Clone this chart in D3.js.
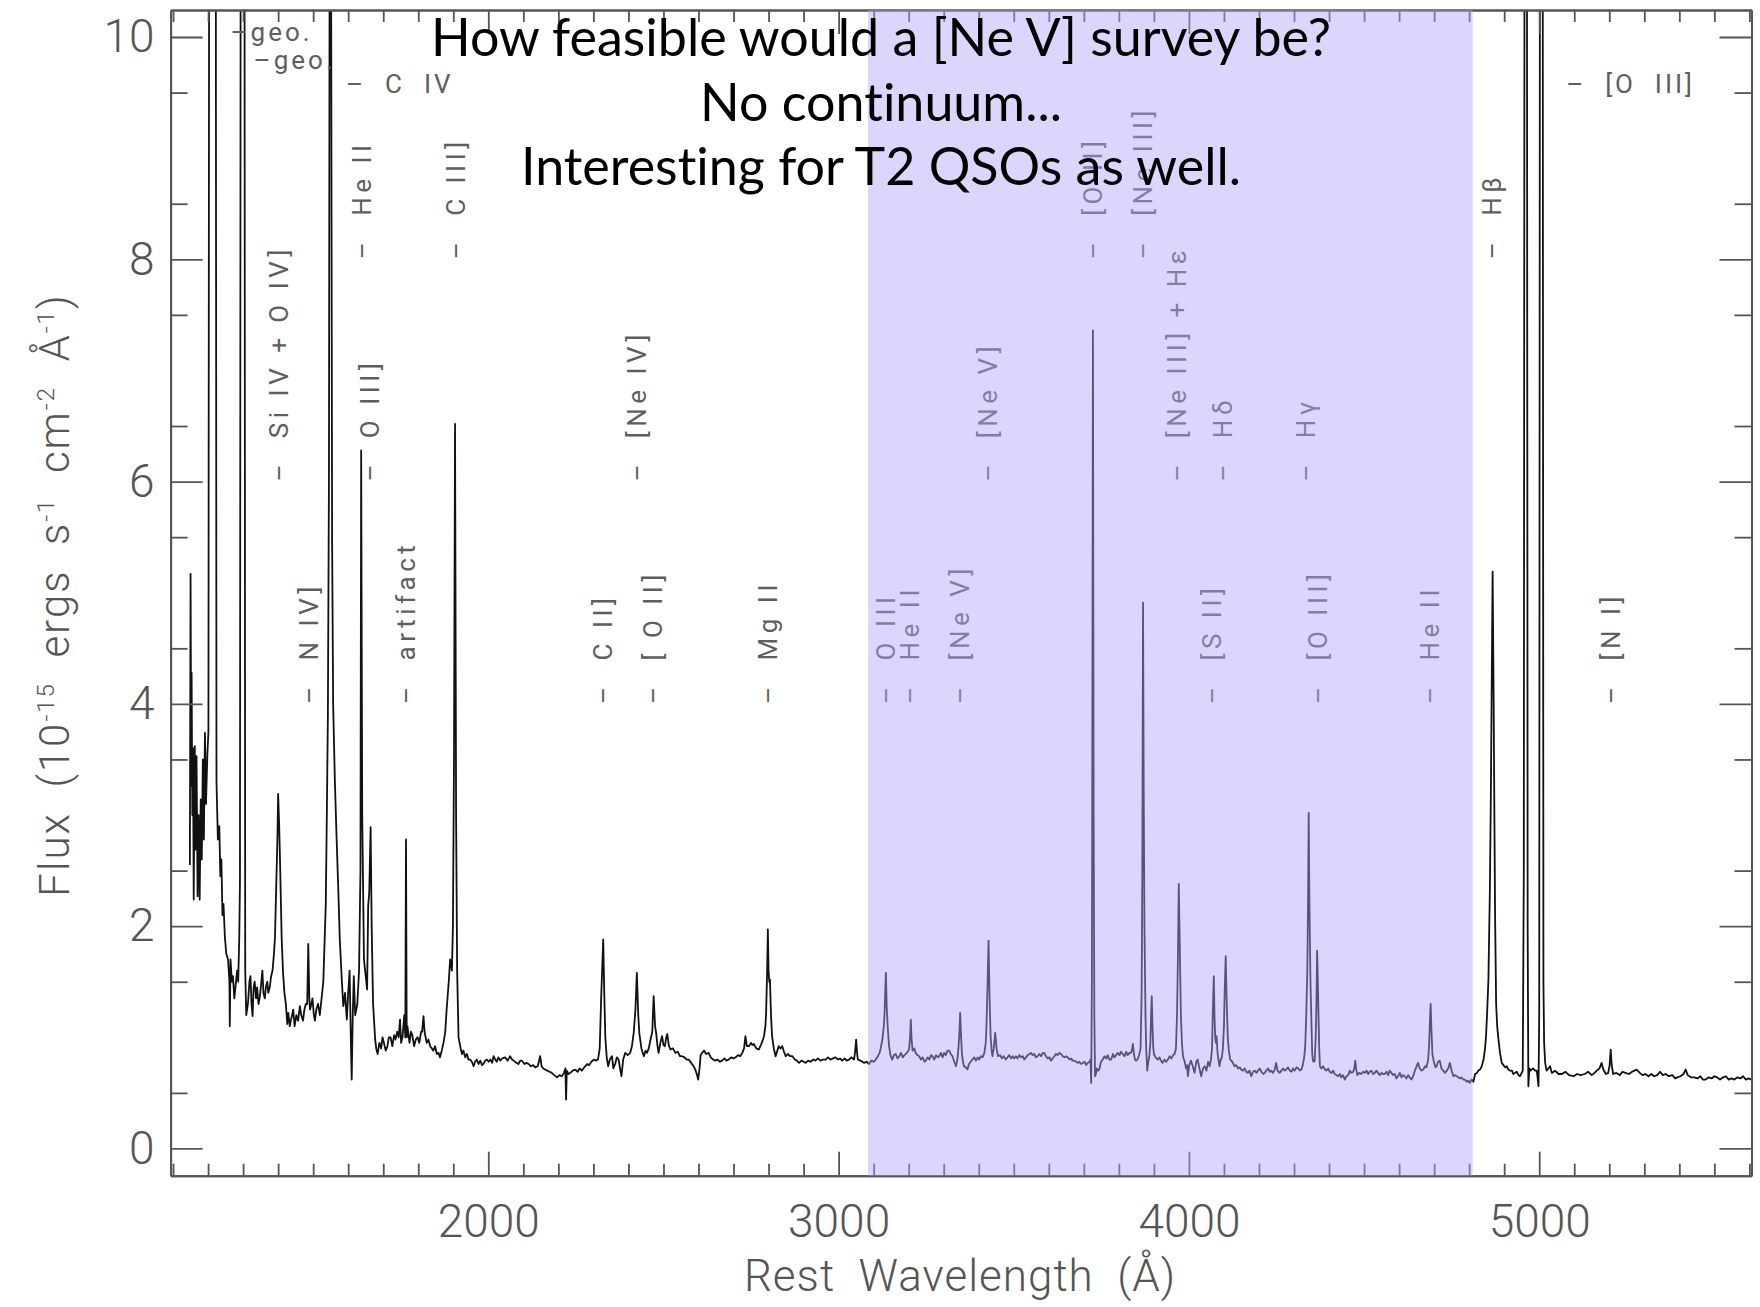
<!DOCTYPE html>
<html>
<head>
<meta charset="utf-8">
<script src="https://cdn.jsdelivr.net/npm/d3@7"></script>
<style>
  body { margin: 0; background: #fff; }
  svg { display: block; }
  .hershey { font-family: Roboto, "Liberation Sans", sans-serif; font-weight: 300; fill: #555; }
  .lineid { font-family: Roboto, "Liberation Sans", sans-serif; font-weight: 400; fill: #5e5e5e; }
  .title { font-family: Lato, "Open Sans", sans-serif; fill: #000; font-variant-ligatures: none; }
</style>
</head>
<body>
<div id="chart"></div>
<script>
// --- data ---------------------------------------------------------------
// [rest wavelength (A), flux (1e-15 erg/s/cm2/A)]; 11 = runs off the top
const specUV = [
    [1148,2.55],[1150,5.17],[1152,3.26],[1153,4.28],[1155,3.0],[1157,3.6],[1159,2.24],[1162,3.62],[1164,2.69],[1167,3.53],
    [1170,2.27],[1173,3.0],[1176,2.24],[1179,3.14],[1182,2.6],[1185,3.5],[1188,2.78],[1191,3.74],[1194,3.1],[1198,3.55],
    [1201,3.75],[1203,11],[1206,11],[1219,11],[1222,11],[1224,3.3],[1228,2.78],[1232,2.9],[1235,2.45],[1238,2.6],
    [1241,2.1],[1244,2.2],[1248,1.9],[1252,1.75],[1257,1.7],[1261,1.5],[1262,1.1],[1264,1.7],[1268,1.5],[1271,1.55],
    [1275,1.35],[1278,1.45],[1283,1.6],[1286,1.5],[1289,1.9],[1291,2.4],[1293,11],[1304,11],[1306,1.6],[1309,1.2],
    [1314,1.31],[1318,1.5],[1321,1.55],[1324,1.3],[1327,1.19],[1330,1.45],[1333,1.5],[1337,1.35],[1340,1.45],[1344,1.3],
    [1348,1.37],[1352,1.5],[1355,1.6],[1358,1.4],[1362,1.35],[1365,1.45],[1369,1.5],[1372,1.4],[1376,1.45],[1380,1.55],
    [1384,1.6],[1388,1.75],[1391,1.9],[1395,2.42],[1398,2.8],[1400,3.19],[1403,2.9],[1406,2.5],[1410,1.9],[1414,1.58],
    [1418,1.4],[1422,1.3],[1426,1.12],[1429,1.22],[1433,1.1],[1436,1.15],[1440,1.2],[1443,1.25],[1447,1.1],[1452,1.2],
    [1457,1.15],[1462,1.28],[1466,1.2],[1471,1.15],[1475,1.25],[1479,1.3],[1483,1.3],[1486,1.84],[1489,1.35],[1491,1.25],
    [1495,1.3],[1498,1.35],[1502,1.2],[1505,1.15],[1509,1.25],[1514,1.3],[1519,1.2],[1524,1.35],[1529,1.5],[1533,1.9],
    [1536,2.2],[1539,3.0],[1542,3.9],[1545,6.0],[1547,11],[1551,11],[1554,5.5],[1557,4.0],[1562,3.3],[1567,2.78],
    [1572,2.3],[1576,1.88],[1582,1.5],[1586,1.28],[1591,1.4],[1596,1.16],[1600,1.4],[1604,1.6],[1608,0.9],[1610,0.62],
    [1613,1.2],[1616,1.55],[1620,1.2],[1626,1.3],[1631,1.6],[1635,2.5],[1637,6.28],[1640,3.0],[1645,1.7],[1649,1.58],
    [1654,1.43],[1657,2.18],[1660,2.3],[1664,2.89],[1667,2.0],[1671,1.3],[1677,0.98],[1680,0.9],[1684,0.85],[1689,0.95],
    [1694,0.9],[1698,1.0],[1702,0.95],[1707,0.88],[1712,0.92],[1716,1.0],[1721,1.0],[1726,0.92],[1731,1.02],[1735,0.98],
    [1740,1.05],[1744,1.0],[1748,1.16],[1751,0.95],[1755,1.0],[1760,1.2],[1763,1.0],[1765,2.78],[1767,1.0],[1769,1.1],
    [1775,0.95],[1779,1.05],[1783,1.02],[1788,0.92],[1793,0.98],[1798,1.0],[1803,0.95],[1808,1.05],[1811,1.05],[1815,1.19],
    [1818,1.05],[1824,0.95],[1829,0.98],[1834,0.92],[1839,0.9],[1843,0.88],[1848,0.92],[1853,0.85],[1858,0.86],[1862,0.82],
    [1867,0.88],[1872,0.95],[1877,1.05],[1881,1.25],[1887,1.5],[1891,1.7],[1896,1.6],[1899,2.0],[1902,3.5],[1905,6.52],
    [1908,3.0],[1911,1.6],[1915,1.0],[1921,0.9],[1925,0.85],[1929,0.88],[1934,0.82],[1939,0.85],[1943,0.8],[1948,0.8],
    [1953,0.78],[1958,0.74],[1962,0.78],[1967,0.8],[1972,0.76],[1977,0.79],[1982,0.75],[1986,0.76],[1991,0.79],[1996,0.8]
];
const specMid = [
    [2001,0.78],[2006,0.8],[2011,0.77],[2015,0.83],[2020,0.8],[2024,0.78],[2029,0.82],[2034,0.79],[2040,0.81],[2048,0.82],
    [2055,0.79],[2062,0.83],[2068,0.8],[2072,0.79],[2080,0.77],[2086,0.76],[2091,0.79],[2096,0.79],[2103,0.76],[2109,0.77],
    [2115,0.76],[2121,0.74],[2128,0.75],[2134,0.73],[2141,0.74],[2148,0.83],[2152,0.74],[2157,0.72],[2162,0.71],[2168,0.7],
    [2175,0.69],[2181,0.68],[2188,0.66],[2196,0.64],[2203,0.66],[2210,0.65],[2216,0.68],[2220,0.72],[2222,0.44],[2224,0.7],
    [2229,0.67],[2234,0.68],[2241,0.7],[2248,0.71],[2255,0.69],[2261,0.72],[2267,0.7],[2274,0.73],[2282,0.76],[2288,0.75],
    [2294,0.78],[2301,0.8],[2307,0.79],[2313,0.8],[2318,0.9],[2322,1.34],[2328,1.88],[2331,1.4],[2334,1.0],[2338,0.82],
    [2342,0.74],[2347,0.8],[2353,0.83],[2357,0.72],[2362,0.76],[2367,0.82],[2372,0.8],[2376,0.72],[2380,0.65],[2385,0.8],
    [2391,0.86],[2398,0.84],[2405,0.86],[2410,0.92],[2415,1.04],[2420,1.25],[2424,1.58],[2428,1.2],[2431,1.04],[2437,0.9],
    [2444,0.83],[2449,0.88],[2453,0.86],[2458,0.9],[2463,0.98],[2468,1.05],[2472,1.37],[2476,1.1],[2479,1.04],[2483,0.92],
    [2486,0.86],[2491,0.95],[2496,1.01],[2500,0.93],[2504,0.92],[2508,1.0],[2511,1.03],[2515,0.93],[2520,0.89],[2527,0.9],
    [2534,0.86],[2541,0.87],[2547,0.83],[2553,0.83],[2560,0.82],[2566,0.8],[2572,0.8],[2579,0.77],[2586,0.74],[2592,0.7],
    [2596,0.66],[2599,0.62],[2603,0.72],[2606,0.84],[2610,0.86],[2616,0.88],[2622,0.85],[2629,0.86],[2635,0.82],[2642,0.8],
    [2648,0.79],[2655,0.8],[2661,0.78],[2667,0.79],[2674,0.81],[2680,0.79],[2686,0.8],[2693,0.82],[2700,0.81],[2706,0.82],
    [2713,0.84],[2719,0.83],[2725,0.86],[2730,0.9],[2734,1.01],[2738,0.92],[2744,0.92],[2750,0.95],[2754,0.93],[2758,0.94],
    [2765,0.9],[2772,0.89],[2778,0.93],[2783,0.97],[2787,1.01],[2791,1.1],[2793,1.22],[2796,1.6],[2798,1.97],[2800,1.6],
    [2802,1.5],[2804,1.52],[2807,1.2],[2810,1.01],[2815,0.9],[2820,0.83],[2825,0.88],[2829,0.92],[2834,0.9],[2839,0.92],
    [2844,0.87],[2849,0.83],[2855,0.85],[2862,0.83],[2868,0.83],[2875,0.8],[2881,0.79],[2887,0.77],[2894,0.79],[2900,0.78],
    [2906,0.77],[2913,0.79],[2920,0.78],[2927,0.8],[2934,0.79],[2941,0.81],[2948,0.79],[2955,0.8],[2963,0.8],[2970,0.82],
    [2977,0.8],[2984,0.81],[2991,0.82],[2998,0.8],[3004,0.81],[3010,0.79],[3017,0.81],[3023,0.79],[3030,0.8],[3036,0.82],
    [3044,0.8],[3047,0.87],[3050,0.98],[3053,0.85],[3055,0.8],[3062,0.79],[3068,0.78],[3073,0.77],[3080,0.78],[3087,0.76]
];
const specBand = [
    [3093,0.79],[3100,0.78],[3106,0.8],[3112,0.83],[3117,0.86],[3120,0.9],[3125,0.98],[3129,1.1],[3131,1.2],[3133,1.4],
    [3135,1.58],[3137,1.3],[3140,1.1],[3144,0.92],[3148,0.84],[3153,0.8],[3158,0.84],[3163,0.85],[3168,0.81],[3173,0.83],
    [3178,0.86],[3183,0.82],[3188,0.84],[3192,0.85],[3197,0.87],[3201,0.89],[3204,1.0],[3206,1.16],[3208,1.0],[3211,0.88],
    [3216,0.9],[3220,0.86],[3225,0.84],[3230,0.83],[3235,0.8],[3240,0.82],[3245,0.78],[3249,0.79],[3254,0.82],[3259,0.8],
    [3264,0.84],[3268,0.83],[3273,0.8],[3278,0.84],[3283,0.82],[3287,0.83],[3292,0.86],[3297,0.82],[3301,0.86],[3306,0.84],
    [3311,0.88],[3316,0.88],[3320,0.85],[3325,0.83],[3330,0.78],[3335,0.74],[3339,0.8],[3342,0.9],[3345,1.05],[3347,1.22],
    [3349,1.05],[3352,0.85],[3355,0.78],[3358,0.74],[3363,0.73],[3368,0.71],[3372,0.76],[3377,0.78],[3382,0.8],[3387,0.82],
    [3392,0.79],[3397,0.82],[3401,0.8],[3406,0.83],[3411,0.82],[3416,0.86],[3420,0.95],[3422,1.1],[3425,1.45],[3428,1.87],
    [3431,1.35],[3434,1.0],[3437,0.88],[3439,0.83],[3443,0.9],[3447,1.04],[3451,0.9],[3455,0.83],[3461,0.84],[3466,0.81],
    [3471,0.83],[3477,0.8],[3482,0.82],[3487,0.84],[3492,0.81],[3497,0.83],[3501,0.81],[3506,0.83],[3511,0.81],[3516,0.84],
    [3521,0.82],[3526,0.83],[3530,0.8],[3535,0.82],[3540,0.84],[3545,0.85],[3549,0.86],[3554,0.84],[3559,0.85],[3563,0.82],
    [3568,0.83],[3573,0.85],[3578,0.83],[3583,0.86],[3587,0.86],[3592,0.83],[3597,0.81],[3602,0.82],[3606,0.79],[3611,0.81],
    [3616,0.83],[3620,0.85],[3625,0.84],[3630,0.86],[3635,0.85],[3640,0.83],[3645,0.82],[3649,0.83],[3654,0.82],[3659,0.8],
    [3664,0.81],[3668,0.79],[3673,0.79],[3678,0.78],[3683,0.77],[3687,0.78],[3692,0.76],[3697,0.77],[3702,0.78],[3707,0.75],
    [3711,0.77],[3716,0.78],[3719,0.8],[3721,0.59],[3723,1.5],[3724,3.0],[3726,7.36],[3728,3.0],[3730,1.2],[3732,0.65],
    [3735,0.68],[3737,0.72],[3741,0.7],[3744,0.71],[3749,0.78],[3754,0.8],[3759,0.83],[3764,0.81],[3768,0.84],[3773,0.8],
    [3778,0.8],[3783,0.85],[3787,0.82],[3792,0.84],[3797,0.86],[3802,0.84],[3806,0.87],[3811,0.85],[3816,0.83],[3821,0.87],
    [3825,0.84],[3830,0.86],[3835,0.86],[3838,0.9],[3840,0.94],[3843,0.85],[3846,0.8],[3849,0.79],[3853,0.8],[3858,0.84],
    [3862,0.9],[3865,1.4],[3867,2.5],[3869,4.91],[3871,3.2],[3873,2.0],[3876,1.2],[3878,0.9],[3881,0.7],[3884,0.78],
    [3887,0.83],[3890,0.95],[3892,1.2],[3894,1.37],[3896,1.1],[3898,0.92],[3900,0.85],[3905,0.82],[3911,0.8],[3916,0.82],
    [3920,0.79],[3925,0.77],[3930,0.8],[3935,0.78],[3940,0.8],[3945,0.83],[3950,0.81],[3955,0.84],[3959,0.85],[3963,0.9],
    [3966,1.2],[3969,1.8],[3971,2.38],[3974,1.8],[3977,1.2],[3980,0.95],[3983,0.83],[3988,0.78],[3992,0.72],[3995,0.75],
    [3997,0.65],[4001,0.75],[4006,0.79],[4011,0.74],[4016,0.68],[4021,0.78],[4025,0.8],[4030,0.72],[4035,0.65],[4040,0.72],
    [4045,0.74],[4050,0.7],[4055,0.78],[4059,0.74],[4063,0.8],[4066,0.9],[4068,1.2],[4071,1.55],[4073,1.2],[4075,1.0],
    [4077,0.95],[4079,1.01],[4082,0.85],[4087,0.74],[4091,0.8],[4094,0.82],[4097,0.9],[4100,1.1],[4102,1.4],[4105,1.73],
    [4108,1.3],[4111,1.0],[4114,0.88],[4118,0.8],[4124,0.78],[4130,0.74],[4135,0.75],[4140,0.72],[4145,0.73],[4149,0.71],
    [4154,0.7],[4159,0.72],[4164,0.69],[4168,0.68],[4173,0.7],[4178,0.65],[4183,0.69],[4188,0.7],[4193,0.68],[4197,0.7],
    [4202,0.72],[4207,0.69],[4212,0.67],[4216,0.68],[4221,0.7],[4226,0.72],[4231,0.69],[4235,0.7],[4240,0.68],[4245,0.71],
    [4249,0.77],[4253,0.7],[4259,0.68],[4264,0.7],[4269,0.72],[4274,0.7],[4278,0.71],[4283,0.73],[4288,0.7],[4293,0.69],
    [4297,0.72],[4302,0.7],[4307,0.73],[4312,0.72],[4317,0.7],[4321,0.71],[4325,0.75],[4329,0.82],[4332,0.92],[4335,1.2],
    [4338,1.6],[4340,2.2],[4342,3.02],[4344,2.2],[4347,1.5],[4350,1.1],[4352,0.85],[4354,0.79],[4357,0.78],[4359,0.79],
    [4362,1.0],[4364,1.3],[4366,1.78],[4368,1.5],[4370,1.2],[4372,0.9],[4374,0.74],[4378,0.72],[4383,0.74],[4388,0.71],
    [4392,0.7],[4397,0.72],[4402,0.69],[4407,0.68],[4412,0.7],[4416,0.67],[4421,0.66],[4426,0.65],[4431,0.67],[4435,0.64],
    [4440,0.66],[4445,0.62],[4450,0.65],[4455,0.66],[4459,0.7],[4464,0.68],[4469,0.69],[4472,0.72],[4475,0.79],[4478,0.7],
    [4481,0.66],[4486,0.68],[4492,0.67],[4497,0.69],[4502,0.68],[4507,0.7],[4512,0.67],[4516,0.69],[4521,0.7],[4526,0.67],
    [4531,0.68],[4535,0.7],[4540,0.68],[4545,0.66],[4550,0.68],[4554,0.67],[4559,0.67],[4564,0.69],[4569,0.66],[4573,0.7],
    [4578,0.68],[4583,0.66],[4588,0.67],[4592,0.63],[4597,0.65],[4602,0.68],[4607,0.64],[4611,0.66],[4616,0.65],[4621,0.63],
    [4626,0.66],[4630,0.64],[4635,0.62],[4640,0.65],[4645,0.7],[4650,0.74],[4654,0.77],[4659,0.72],[4664,0.7],[4669,0.71],
    [4674,0.74],[4678,0.73],[4683,0.8],[4686,0.95],[4688,1.15],[4690,1.3],[4692,1.1],[4695,0.85],[4700,0.77],[4704,0.73],
    [4707,0.74],[4711,0.78],[4716,0.79],[4721,0.72],[4726,0.7],[4731,0.68],[4736,0.7],[4740,0.72],[4745,0.77],[4750,0.7],
    [4755,0.65],[4760,0.66],[4764,0.65],[4769,0.64],[4774,0.63],[4778,0.64],[4783,0.62],[4788,0.62],[4793,0.6],[4797,0.61],
    [4802,0.59],[4807,0.62],[4812,0.6]
];
const specRed = [
    [4817,0.67],[4822,0.68],[4826,0.7],[4831,0.71],[4836,0.74],[4841,0.8],[4845,0.89],[4848,1.0],[4851,1.2],[4855,1.52],
    [4859,2.3],[4862,3.2],[4864,4.0],[4867,5.19],[4870,4.0],[4872,3.0],[4874,2.1],[4877,1.3],[4880,1.1],[4883,1.0],
    [4888,0.86],[4893,0.77],[4898,0.75],[4903,0.73],[4907,0.74],[4912,0.71],[4917,0.7],[4922,0.7],[4926,0.67],[4931,0.68],
    [4936,0.69],[4941,0.66],[4945,0.65],[4950,0.68],[4953,0.7],[4956,2.5],[4958,11],[4965,11],[4967,2.0],[4969,0.56],
    [4972,0.72],[4975,0.7],[4978,0.71],[4983,0.72],[4988,0.7],[4993,0.7],[4996,0.62],[4998,0.56],[5000,1.2],[5002,11],
    [5010,11],[5012,1.5],[5014,0.95],[5017,0.77],[5021,0.7],[5026,0.72],[5031,0.74],[5036,0.68],[5045,0.7],[5055,0.67],
    [5065,0.67],[5075,0.69],[5085,0.66],[5098,0.65],[5108,0.67],[5118,0.66],[5130,0.67],[5140,0.69],[5150,0.66],[5158,0.68],
    [5164,0.7],[5172,0.72],[5178,0.77],[5183,0.71],[5190,0.67],[5197,0.68],[5201,0.75],[5204,0.89],[5207,0.75],[5211,0.67],
    [5220,0.68],[5230,0.66],[5238,0.69],[5246,0.68],[5256,0.67],[5265,0.69],[5272,0.7],[5278,0.71],[5287,0.68],[5295,0.66],
    [5303,0.67],[5312,0.65],[5320,0.67],[5328,0.65],[5337,0.66],[5345,0.69],[5353,0.66],[5361,0.67],[5370,0.65],[5380,0.66],
    [5388,0.63],[5394,0.64],[5403,0.65],[5412,0.67],[5418,0.71],[5424,0.66],[5433,0.64],[5443,0.64],[5452,0.63],[5460,0.65],
    [5467,0.62],[5475,0.62],[5484,0.64],[5492,0.63],[5500,0.65],[5508,0.64],[5516,0.62],[5525,0.64],[5533,0.65],[5541,0.62],
    [5549,0.63],[5557,0.62],[5566,0.64],[5574,0.63],[5582,0.65],[5590,0.62],[5598,0.63],[5606,0.62]
];

// vertical line ids: name, wavelength, flux where the tick-dash starts
const lineLabels = [
    {name: "Si IV + O IV]", wave: 1400, flux: 6}, {name: "N IV]", wave: 1488, flux: 4},
    {name: "He II", wave: 1637, flux: 8}, {name: "O III]", wave: 1662, flux: 6},
    {name: "artifact", wave: 1765, flux: 4}, {name: "C III]", wave: 1908, flux: 8},
    {name: "C II]", wave: 2327, flux: 4}, {name: "[Ne IV]", wave: 2422, flux: 6},
    {name: "[ O II]", wave: 2470, flux: 4}, {name: "Mg II", wave: 2798, flux: 4},
    {name: "O III", wave: 3134, flux: 4}, {name: "He II", wave: 3203, flux: 4},
    {name: "[Ne V]", wave: 3346, flux: 4}, {name: "[Ne V]", wave: 3426, flux: 6},
    {name: "[O II]", wave: 3726, flux: 8}, {name: "[Ne III]", wave: 3869, flux: 8},
    {name: "[Ne III] + Hε", wave: 3966, flux: 6}, {name: "[S II]", wave: 4066, flux: 4},
    {name: "Hδ", wave: 4097, flux: 6}, {name: "Hγ", wave: 4334, flux: 6},
    {name: "[O III]", wave: 4366, flux: 4}, {name: "He II", wave: 4686, flux: 4},
    {name: "Hβ", wave: 4863, flux: 8}, {name: "[N I]", wave: 5203, flux: 4}
];
// horizontal ids near the top
const topLabels = [
    {name: "–geo.", wave: 1264, flux: 10.05}, {name: "–geo.", wave: 1330, flux: 9.8},
    {name: "–  C  IV", wave: 1594, flux: 9.58}, {name: "–  [O  III]", wave: 5077, flux: 9.58}
];

const shadedBand = [3084, 4810];
const waveRange = [1093, 5606];
const fluxRange = [-0.245, 10.243];
const xTickLabels = [2000, 3000, 4000, 5000];
const yTickLabels = [0, 2, 4, 6, 8, 10];
const titleLines = ["How feasible would a [Ne V] survey be?", "No continuum...", "Interesting for T2 QSOs as well."];

// --- layout ---------------------------------------------------------------
const W = 1760, H = 1307;
const margin = {top: 10, right: 8.5, bottom: 131.3, left: 170.6};
const plotTop = margin.top, plotBottom = H - margin.bottom;
const plotLeft = margin.left, plotRight = W - margin.right;

const svg = d3.select("#chart").append("svg")
    .attr("width", W)
    .attr("height", H);

const x = d3.scaleLinear().domain(waveRange).range([plotLeft, plotRight]);
const y = d3.scaleLinear().domain(fluxRange).range([plotBottom, plotTop]);

svg.append("clipPath").attr("id", "plotClip")
    .append("rect")
    .attr("x", plotLeft).attr("y", plotTop)
    .attr("width", plotRight - plotLeft)
    .attr("height", plotBottom - plotTop);

// spectrum
const spectrum = specUV.concat(specMid, specBand, specRed);
const line = d3.line().x(d => x(d[0])).y(d => y(d[1]));

svg.append("g")
    .attr("clip-path", "url(#plotClip)")
    .append("path")
    .datum(spectrum)
    .attr("d", line)
    .attr("fill", "none")
    .attr("stroke", "#111")
    .attr("stroke-width", 1.8)
    .attr("stroke-linejoin", "round");

// line identifications
const labelSize = 26;
svg.append("g").attr("class", "lineid")
    .selectAll("text")
    .data(lineLabels)
    .join("text")
    .attr("transform", d => `translate(${x(d.wave)},${y(d.flux)}) rotate(-90)`)
    .attr("dy", "0.36em")
    .attr("font-size", labelSize)
    .attr("letter-spacing", 4.5)
    .style("white-space", "pre")
    .text(d => "–  " + d.name);

svg.append("g").attr("class", "lineid")
    .selectAll("text")
    .data(topLabels)
    .join("text")
    .attr("x", d => x(d.wave))
    .attr("y", d => y(d.flux))
    .attr("dy", "0.36em")
    .attr("font-size", labelSize)
    .attr("letter-spacing", 3)
    .style("white-space", "pre")
    .text(d => d.name);

// axes: inward ticks on all four sides
const xMinor = d3.range(1100, 5601, 100).filter(v => v % 1000 !== 0);
const yMinor = d3.range(0.5, 10.01, 1);
const axisColor = "#555";

function styleAxis(g) {
    g.attr("font-family", null).attr("font-size", null);
    g.selectAll("path.domain").attr("stroke", axisColor).attr("stroke-width", 2);
    g.selectAll(".tick line").attr("stroke", axisColor).attr("stroke-width", 1.8);
    g.selectAll(".tick text")
        .attr("class", "hershey")
        .attr("font-size", 46)
        .attr("fill", axisColor);
}

svg.append("g").attr("transform", `translate(0,${plotBottom})`)
    .call(d3.axisBottom(x).tickValues(xMinor).tickSize(-12).tickSizeOuter(0).tickFormat(""))
    .call(styleAxis);
svg.append("g").attr("transform", `translate(0,${plotBottom})`)
    .call(d3.axisBottom(x).tickValues(xTickLabels).tickSize(-24).tickSizeOuter(0).tickPadding(29).tickFormat(d3.format("d")))
    .call(styleAxis);

svg.append("g").attr("transform", `translate(0,${plotTop})`)
    .call(d3.axisTop(x).tickValues(xMinor).tickSize(-12).tickSizeOuter(0).tickFormat(""))
    .call(styleAxis);
svg.append("g").attr("transform", `translate(0,${plotTop})`)
    .call(d3.axisTop(x).tickValues(xTickLabels).tickSize(-24).tickSizeOuter(0).tickFormat(""))
    .call(styleAxis);

svg.append("g").attr("transform", `translate(${plotLeft},0)`)
    .call(d3.axisLeft(y).tickValues(yMinor).tickSize(-17).tickSizeOuter(0).tickFormat(""))
    .call(styleAxis);
svg.append("g").attr("transform", `translate(${plotLeft},0)`)
    .call(d3.axisLeft(y).tickValues(yTickLabels).tickSize(-32).tickSizeOuter(0).tickPadding(16).tickFormat(d3.format("d")))
    .call(styleAxis);

svg.append("g").attr("transform", `translate(${plotRight},0)`)
    .call(d3.axisRight(y).tickValues(yMinor).tickSize(-17).tickSizeOuter(0).tickFormat(""))
    .call(styleAxis);
svg.append("g").attr("transform", `translate(${plotRight},0)`)
    .call(d3.axisRight(y).tickValues(yTickLabels).tickSize(-32).tickSizeOuter(0).tickFormat(""))
    .call(styleAxis);

// axis titles
svg.append("text")
    .attr("class", "hershey")
    .attr("x", 960).attr("y", 1291)
    .attr("text-anchor", "middle")
    .attr("font-size", 44)
    .attr("letter-spacing", 1)
    .style("white-space", "pre")
    .text("Rest  Wavelength  (Å)");

const yTitle = svg.append("text")
    .attr("class", "hershey")
    .attr("transform", "translate(54,595) rotate(-90)")
    .attr("text-anchor", "middle")
    .attr("dy", "0.36em")
    .attr("font-size", 42)
    .attr("letter-spacing", 2)
    .style("white-space", "pre");
[["Flux  (10", false], ["-15", true], ["  ergs  s", false], ["-1", true],
 ["  cm", false], ["-2", true], ["  Å", false], ["-1", true], [")", false]].forEach(p => {
    yTitle.append("tspan")
        .attr("font-size", p[1] ? 24 : 42)
        .attr("baseline-shift", p[1] ? "62%" : "0%")
        .text(p[0]);
});

// shaded [Ne V] window (tints everything under it)
svg.append("rect")
    .attr("x", x(shadedBand[0]))
    .attr("y", plotTop)
    .attr("width", x(shadedBand[1]) - x(shadedBand[0]))
    .attr("height", plotBottom - plotTop)
    .attr("fill", "rgb(179,164,248)")
    .attr("fill-opacity", 0.45);

// slide text on top
svg.append("g").attr("class", "title")
    .selectAll("text")
    .data(titleLines)
    .join("text")
    .attr("x", 881)
    .attr("y", (d, i) => 56 + i * 64.5)
    .attr("text-anchor", "middle")
    .attr("font-size", 52)
    .text(d => d);
</script>
</body>
</html>
